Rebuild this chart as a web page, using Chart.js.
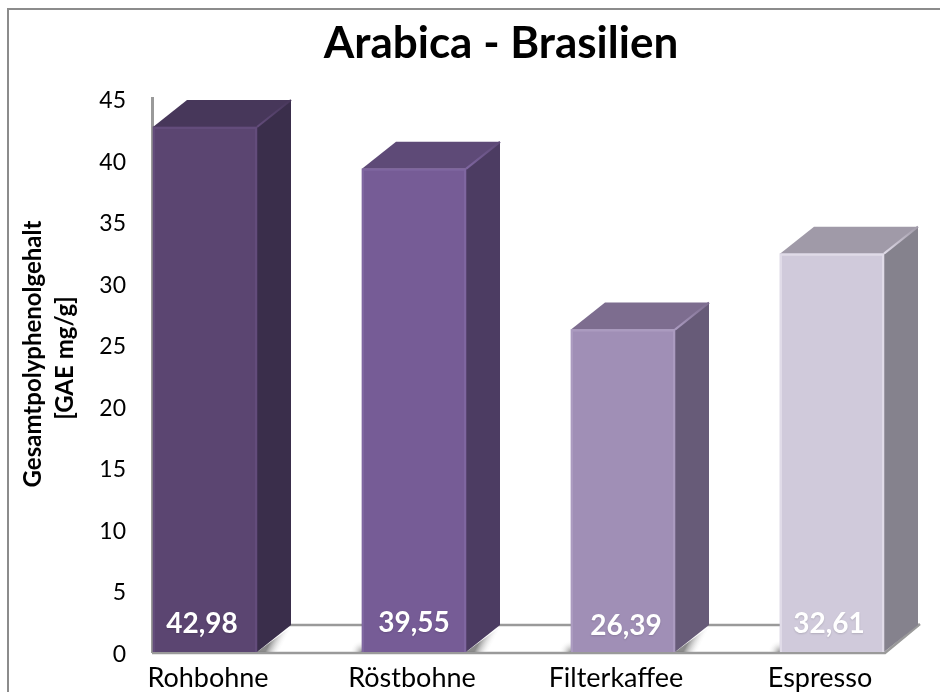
<!DOCTYPE html>
<html>
<head>
<meta charset="utf-8">
<style>
  html, body { margin: 0; padding: 0; background: #fff; }
  #box { position: absolute; left: 0; top: 0; width: 940px; height: 692px; }
</style>
<script src="https://cdn.jsdelivr.net/npm/chart.js@4/dist/chart.umd.min.js"></script>
</head>
<body>
<div id="box"><canvas id="chart" width="940" height="692"></canvas></div>
<script>
const chartTitle = 'Arabica - Brasilien';
const axisTitle = ['Gesamtpolyphenolgehalt', '[GAE mg/g]'];
const categories = ['Rohbohne', 'Röstbohne', 'Filterkaffee', 'Espresso'];
const polyphenols = [42.98, 39.55, 26.39, 32.61];
const valueLabels = ['42,98', '39,55', '26,39', '32,61'];
const frontColors = ['#5b4571', '#765c96', '#a08fb6', '#d0cadb'];
const sideColors = ['#3a2e4b', '#4c3c62', '#675b78', '#85828d'];
const topColors = ['#47375a', '#5e4a77', '#7d6d8f', '#a09aa8'];
const highlightColors = ['#634c7b', '#7f66a0', '#ab9bc0', '#e0dbe8'];
const yTicks = [0, 5, 10, 15, 20, 25, 30, 35, 40, 45];
const labelLift = [28, 29, 26, 28];
const labelShift = [-3, 0, 3, -3];

const FONT = 'Lato, Carlito, sans-serif';
const DEPTH_X = 34, DEPTH_Y = -27;
const GREY = '#9a9a9a';

// Faces the flat bar elements lack: floor behind the bars, sides and tops around them.
const prism = {
  id: 'prism',
  beforeDatasetsDraw(chart) {
    const { ctx, scales, chartArea } = chart;
    const bars = chart.getDatasetMeta(0).data;
    const base = scales.yFront.getPixelForValue(0);
    const backY = base + DEPTH_Y;
    const last = bars[bars.length - 1];
    const lastRight = last.x + last.width / 2;
    const floorEnd = lastRight + DEPTH_X;

    ctx.save();
    // Back and front floor edges
    ctx.strokeStyle = GREY;
    ctx.lineWidth = 2.5;
    ctx.beginPath();
    ctx.moveTo(bars[0].x, backY);
    ctx.lineTo(floorEnd + 1, backY);
    ctx.stroke();
    ctx.beginPath();
    ctx.moveTo(chartArea.left, base + 1);
    ctx.lineTo(lastRight + 1, base + 1);
    ctx.lineTo(floorEnd + 2, backY - 1);
    ctx.stroke();

    // Soft shadows cast on the floor
    bars.forEach((bar, i) => {
      if (i === bars.length - 1) return;
      const right = bar.x + bar.width / 2;
      const g = ctx.createLinearGradient(right + 12, base - 8, right + 24, base - 2);
      g.addColorStop(0, 'rgba(110,110,110,0.8)');
      g.addColorStop(1, 'rgba(255,255,255,0)');
      ctx.fillStyle = g;
      ctx.beginPath();
      ctx.moveTo(right, base);
      ctx.lineTo(right + DEPTH_X, backY + 2);
      ctx.lineTo(right + DEPTH_X + 16, backY + 2);
      ctx.lineTo(right + 24, base);
      ctx.closePath();
      ctx.fill();

      const next = bars[i + 1].x - bars[i + 1].width / 2;
      const s = ctx.createRadialGradient(next, base, 0, next, base, 12);
      s.addColorStop(0, 'rgba(110,110,110,0.75)');
      s.addColorStop(1, 'rgba(255,255,255,0)');
      ctx.fillStyle = s;
      ctx.fillRect(next - 12, base - 12, 12, 12);
    });

    // Side and top faces
    bars.forEach((bar, i) => {
      const l = bar.x - bar.width / 2, r = bar.x + bar.width / 2;
      const t = bar.y;
      ctx.fillStyle = sideColors[i];
      ctx.beginPath();
      ctx.moveTo(r, t);
      ctx.lineTo(r + DEPTH_X, t + DEPTH_Y);
      ctx.lineTo(r + DEPTH_X, base + DEPTH_Y);
      ctx.lineTo(r, base);
      ctx.closePath();
      ctx.fill();

      ctx.fillStyle = topColors[i];
      ctx.beginPath();
      ctx.moveTo(l, t);
      ctx.lineTo(l + DEPTH_X, t + DEPTH_Y);
      ctx.lineTo(r + DEPTH_X, t + DEPTH_Y);
      ctx.lineTo(r, t);
      ctx.closePath();
      ctx.fill();

      // Sheen along the edge where top and side meet
      const sheen = ctx.createLinearGradient(r, t, r + DEPTH_X, t + DEPTH_Y);
      sheen.addColorStop(0, highlightColors[i]);
      sheen.addColorStop(1, topColors[i]);
      ctx.strokeStyle = sheen;
      ctx.lineWidth = 2;
      ctx.beginPath();
      ctx.moveTo(r, t);
      ctx.lineTo(r + DEPTH_X, t + DEPTH_Y);
      ctx.stroke();
    });
    ctx.restore();
  },
  afterDatasetsDraw(chart) {
    const { ctx, scales } = chart;
    const bars = chart.getDatasetMeta(0).data;
    const base = scales.yFront.getPixelForValue(0);
    ctx.save();
    bars.forEach((bar, i) => {
      const l = bar.x - bar.width / 2, r = bar.x + bar.width / 2;
      // Bevel highlight on the front face
      ctx.strokeStyle = highlightColors[i];
      ctx.lineWidth = 2;
      ctx.beginPath();
      ctx.moveTo(l + 1, base);
      ctx.lineTo(l + 1, bar.y + 1);
      ctx.lineTo(r - 1, bar.y + 1);
      ctx.lineTo(r - 1, base);
      ctx.stroke();

      // Value printed near the foot of each bar
      ctx.fillStyle = '#ffffff';
      ctx.font = 'bold 28px ' + FONT;
      ctx.textAlign = 'center';
      ctx.textBaseline = 'middle';
      ctx.shadowColor = 'rgba(0,0,0,0.15)';
      ctx.shadowBlur = 2;
      ctx.shadowOffsetY = 1;
      ctx.fillText(valueLabels[i], bar.x + labelShift[i], base - labelLift[i]);
      ctx.shadowColor = 'transparent';
    });
    ctx.restore();
  }
};

// Outer frame and the two headings, which sit off the plot's centre line
const frame = {
  id: 'frame',
  beforeDraw(chart) {
    const { ctx } = chart;
    ctx.save();
    ctx.strokeStyle = '#8c8c8c';
    ctx.lineWidth = 2;
    ctx.beginPath();
    ctx.moveTo(8, 692);
    ctx.lineTo(8, 9);
    ctx.lineTo(940, 9);
    ctx.stroke();

    ctx.fillStyle = '#000';
    ctx.textAlign = 'center';
    ctx.textBaseline = 'alphabetic';
    ctx.font = 'bold 44px ' + FONT;
    ctx.fillText(chartTitle, 501, 58);

    ctx.font = 'bold 24px ' + FONT;
    ctx.translate(0, 354);
    ctx.rotate(-Math.PI / 2);
    ctx.fillText(axisTitle[0], 0, 41);
    ctx.fillText(axisTitle[1], -4, 73);
    ctx.restore();
  }
};

new Chart(document.getElementById('chart'), {
  type: 'bar',
  data: {
    labels: categories,
    datasets: [{
      label: 'Gesamtpolyphenolgehalt',
      data: polyphenols.map((v, i) => ({ x: i, y: v })),
      backgroundColor: frontColors,
      barThickness: 104,
      borderWidth: 0,
      xAxisID: 'x',
      yAxisID: 'yFront'
    }]
  },
  options: {
    responsive: false,
    animation: false,
    parsing: false,
    layout: { padding: { left: 0, right: 21, top: 98, bottom: 0 } },
    plugins: {
      legend: { display: false },
      tooltip: { enabled: false }
    },
    scales: {
      // Front plane of the bars
      x: {
        type: 'linear', display: false, offset: false,
        min: (152 - 205) / 209, max: (919 - 205) / 209
      },
      // Visible category axis
      xLabels: {
        type: 'linear', position: 'bottom', offset: false,
        min: (152 - 208) / 204, max: (919 - 208) / 204,
        afterBuildTicks(axis) {
          axis.ticks = categories.map((_, i) => ({ value: i }));
        },
        afterFit(axis) { axis.height = 40; },
        ticks: {
          autoSkip: false, maxRotation: 0, color: '#000', padding: 10,
          font: { family: FONT, size: 27 },
          callback: v => categories[v]
        },
        grid: { display: false, drawTicks: false },
        border: { display: false }
      },
      // The bars sit on a plane slightly nearer than the wall carrying the scale
      yFront: {
        type: 'linear', display: false, min: 0, max: 45.35
      },
      y: {
        type: 'linear', position: 'left', min: 0, max: 45,
        afterBuildTicks(axis) {
          axis.ticks = yTicks.map(v => ({ value: v }));
        },
        afterFit(axis) { axis.width = 152; },
        ticks: {
          color: '#000', padding: 18,
          font: { family: FONT, size: 23, lineHeight: 0.22 },
          // A blank first line sets the numerals slightly below their tick marks
          callback: v => ['', String(v)]
        },
        grid: { display: false, drawOnChartArea: false, drawTicks: true, tickLength: 8, tickColor: GREY, tickWidth: 2 },
        border: { display: true, color: GREY, width: 3 }
      }
    }
  },
  plugins: [frame, prism]
});
</script>
</body>
</html>
